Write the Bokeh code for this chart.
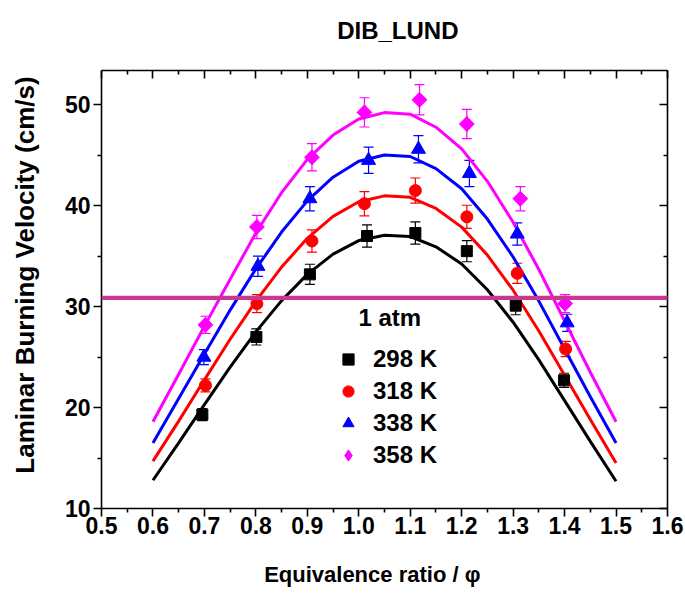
from bokeh.plotting import figure
from bokeh.models import (LinearAxis, Range1d, Whisker, TeeHead, ColumnDataSource,
                          Legend, LegendItem, Label, PolyAnnotation, FixedTicker,
                          PrintfTickFormatter)
from bokeh.embed import file_html
from bokeh.resources import INLINE
import math

# ---- data ----
phi_298 = [0.696, 0.801, 0.905, 1.016, 1.110, 1.210, 1.305, 1.399]
su_298 = [19.3, 27.0, 33.2, 37.0, 37.3, 35.5, 30.1, 22.7]
err_298 = [0.6, 0.8, 1.0, 1.1, 1.1, 1.05, 0.9, 0.7]

phi_318 = [0.702, 0.802, 0.909, 1.011, 1.110, 1.210, 1.308, 1.402]
su_318 = [22.2, 30.3, 36.5, 40.2, 41.5, 38.9, 33.3, 25.8]
err_318 = [0.65, 0.9, 1.1, 1.2, 1.25, 1.15, 1.0, 0.75]

phi_338 = [0.699, 0.804, 0.905, 1.019, 1.116, 1.215, 1.308, 1.405]
su_338 = [25.0, 34.0, 40.7, 44.5, 45.6, 43.2, 37.2, 28.4]
err_338 = [0.75, 1.0, 1.2, 1.3, 1.35, 1.3, 1.1, 0.85]

phi_358 = [0.702, 0.802, 0.909, 1.011, 1.118, 1.210, 1.314, 1.401]
su_358 = [28.2, 37.9, 44.8, 49.25, 50.5, 48.1, 40.7, 30.3]
err_358 = [0.85, 1.15, 1.35, 1.45, 1.5, 1.45, 1.2, 0.9]

# fitted curves
phi_fit = [0.60, 0.65, 0.70, 0.75, 0.80, 0.85, 0.90, 0.95, 1.00, 1.05,
           1.10, 1.15, 1.20, 1.25, 1.30, 1.35, 1.40, 1.45, 1.50]
fit_298 = [12.8, 16.5, 20.3, 24.0, 27.5, 30.6, 33.2, 35.2, 36.55, 37.08,
           36.95, 35.93, 34.23, 31.67, 28.46, 24.73, 20.69, 16.65, 12.7]
fit_318 = [14.7, 18.66, 22.75, 26.77, 30.54, 33.92, 36.77, 38.95, 40.40, 40.98,
           40.84, 39.73, 37.88, 35.11, 31.63, 27.59, 23.21, 18.82, 14.5]
fit_338 = [16.5, 20.89, 25.32, 29.66, 33.74, 37.39, 40.48, 42.83, 44.40, 45.03,
           44.88, 43.68, 41.68, 38.68, 34.92, 30.55, 25.81, 21.07, 16.5]
fit_358 = [18.6, 23.31, 28.07, 32.72, 37.3, 41.3, 44.6, 47.0, 48.6, 49.23,
           49.07, 47.78, 45.63, 42.42, 38.37, 33.68, 28.59, 23.50, 18.6]

series_labels = ["298 K", "318 K", "338 K", "358 K"]
x_ticks = [0.5, 0.6, 0.7, 0.8, 0.9, 1.0, 1.1, 1.2, 1.3, 1.4, 1.5, 1.6]
x_minor = [0.55, 0.65, 0.75, 0.85, 0.95, 1.05, 1.15, 1.25, 1.35, 1.45, 1.55]
y_ticks = [10, 20, 30, 40, 50]
y_minor = [15, 25, 35, 45]
marked_level = 30.86

FONT = "Liberation Sans"
NB = "\u00a0"

p = figure(width=685, height=594, output_backend="svg", toolbar_location=None,
           title=None,
           x_range=Range1d(0.5, 1.6), y_range=Range1d(10, 53.4),
           min_border_left=101, min_border_right=18, min_border_top=70, min_border_bottom=86)
p.grid.visible = False
p.outline_line_color = None
p.background_fill_color = "white"
p.border_fill_color = "white"

def style_axis(ax, labels=True, inward=False):
    ax.axis_line_width = 1.6
    ax.axis_line_color = "black"
    ax.major_tick_line_width = 1.6
    ax.minor_tick_line_width = 1.6
    ax.major_tick_line_color = "black"
    ax.minor_tick_line_color = "black"
    if inward:
        ax.major_tick_in = 8
        ax.major_tick_out = 0
        ax.minor_tick_in = 4
        ax.minor_tick_out = 0
        ax.major_label_standoff = 0
    else:
        ax.major_tick_in = 0
        ax.major_tick_out = 8
        ax.minor_tick_in = 0
        ax.minor_tick_out = 4
    ax.major_label_text_font = FONT
    ax.major_label_text_font_style = "bold"
    ax.major_label_text_font_size = "23px" if labels else "0px"
    ax.major_label_text_color = "black" if labels else None
    ax.axis_label_text_font = FONT
    ax.axis_label_text_font_style = "bold"
    ax.axis_label_text_color = "black"

xb = p.xaxis[0]
yl = p.yaxis[0]
xb.ticker = FixedTicker(ticks=x_ticks, minor_ticks=x_minor)
xb.formatter = PrintfTickFormatter(format="%.1f")
yl.ticker = FixedTicker(ticks=y_ticks, minor_ticks=y_minor)
style_axis(xb)
style_axis(yl)
xb.major_label_standoff = 0
yl.major_label_standoff = 3

xb.axis_label = "Equivalence ratio / φ" + NB * 4
xb.axis_label_text_font_size = "22px"
xb.axis_label_standoff = 25
yl.axis_label = NB * 4 + "Laminar Burning Velocity (cm/s)"
yl.axis_label_text_font_size = "26px"
yl.axis_label_standoff = 22

xt = LinearAxis(ticker=FixedTicker(ticks=x_ticks, minor_ticks=x_minor))
style_axis(xt, labels=False, inward=True)
xt.axis_label = NB * 4 + "DIB_LUND"
xt.axis_label_text_font_size = "24px"
xt.axis_label_standoff = 27
p.add_layout(xt, "above")
yr = LinearAxis(ticker=FixedTicker(ticks=y_ticks, minor_ticks=y_minor))
style_axis(yr, labels=False, inward=True)
p.add_layout(yr, "right")

colors = ["black", "red", "blue", "magenta"]
phis = [phi_298, phi_318, phi_338, phi_358]
sus = [su_298, su_318, su_338, su_358]
errs = [err_298, err_318, err_338, err_358]
fits = [fit_298, fit_318, fit_338, fit_358]

for c, f in zip(colors, fits):
    p.line(phi_fit, f, line_color=c, line_width=3)

items = []
for c, x, y, e, lab in zip(colors, phis, sus, errs, series_labels):
    src = ColumnDataSource(dict(x=x, y=y, up=[a + b for a, b in zip(y, e)],
                                lo=[a - b for a, b in zip(y, e)]))
    w = Whisker(base="x", upper="up", lower="lo", source=src, dimension="height",
                line_color=c, line_width=1.2,
                upper_head=TeeHead(size=10, line_color=c, line_width=1.2),
                lower_head=TeeHead(size=10, line_color=c, line_width=1.2))
    p.add_layout(w)
    if c == "black":
        r = p.scatter("x", "y", source=src, marker="square", size=11, color=c)
    elif c == "red":
        r = p.scatter("x", "y", source=src, marker="circle", size=12, color=c)
    elif c == "blue":
        r = p.scatter("x", "y", source=src, marker="triangle", size=14, color=c)
    else:
        r = p.scatter("x", "y", source=src, marker="diamond", size=14.5, color=c)
        p.scatter("x", "y", source=src, marker="square", size=10.5, angle=math.pi / 4, color=c)
    items.append(LegendItem(label=lab, renderers=[r]))

legend = Legend(items=items, location=(233, 37), border_line_color=None,
                background_fill_alpha=0, padding=0, margin=0, spacing=0,
                glyph_width=28, glyph_height=28, label_height=32, label_standoff=11,
                label_text_font=FONT, label_text_font_style="bold",
                label_text_font_size="24px", label_text_color="black")
p.add_layout(legend, "center")

p.add_layout(Label(x=257, y=191, x_units="screen", y_units="screen", text="1 atm",
                   text_font=FONT, text_font_style="bold", text_font_size="24px",
                   text_color="black", text_baseline="middle"))

band = PolyAnnotation(xs=[0, 685, 685, 0], xs_units="screen",
                      ys=[marked_level + 0.21, marked_level + 0.21,
                          marked_level - 0.21, marked_level - 0.21],
                      ys_units="data",
                      fill_color="#C7388F", fill_alpha=1, line_color=None, level="overlay")
p.add_layout(band)

open("out.html", "w").write(file_html(p, INLINE))
